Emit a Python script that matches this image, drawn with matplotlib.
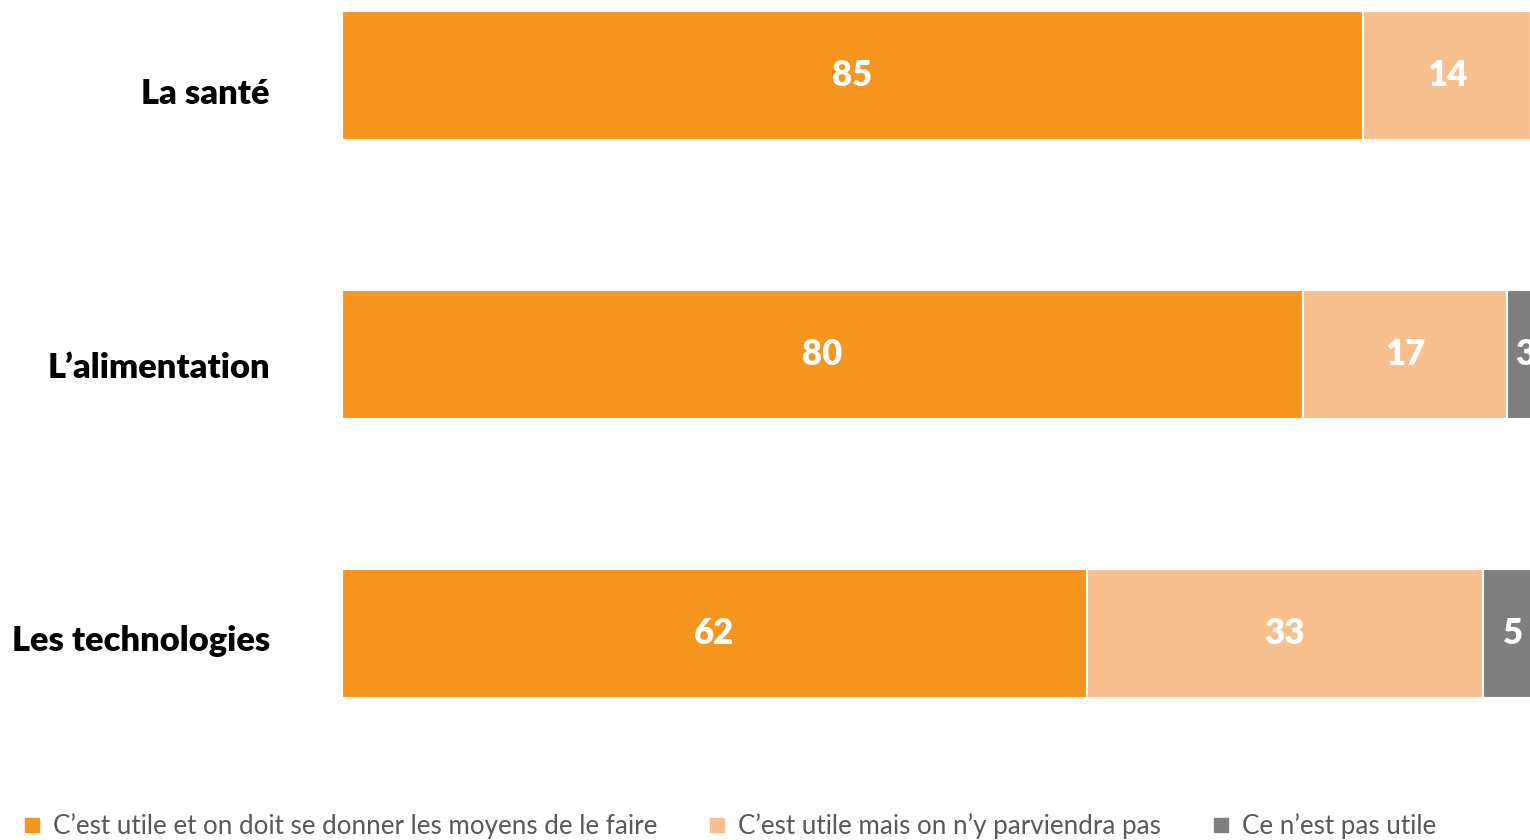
import matplotlib.pyplot as plt
import matplotlib.transforms as mtransforms
from matplotlib.lines import Line2D

plt.rcParams['font.family'] = ['Lato', 'DejaVu Sans']

categories = ["La santé", "L’alimentation", "Les technologies"]
series_names = ["C’est utile et on doit se donner les moyens de le faire",
                "C’est utile mais on n’y parviendra pas",
                "Ce n’est pas utile"]
utile_moyens = [85, 80, 62]
utile_pas = [14, 17, 33]
pas_utile = [1, 3, 5]
colors = ["#F7961E", "#F9C08F", "#7F7F7F"]

fig = plt.figure(figsize=(15.3, 8.4), dpi=100)
# the bars run past the right edge in the original, so the axes do too
ax = fig.add_axes([342 / 1530, 1 - 740 / 840, 1201 / 1530, 740 / 840])

ypos = list(range(len(categories)))
left = [0, 0, 0]
for vals, col in zip([utile_moyens, utile_pas, pas_utile], colors):
    bars = ax.barh(ypos, vals, left=left, height=0.46, color=col,
                   edgecolor="white", linewidth=1.5)
    for b, v in zip(bars, vals):
        ax.text(b.get_x() + b.get_width() / 2, b.get_y() + b.get_height() / 2,
                str(v), ha="center", va="center", color="white",
                fontsize=25, fontweight="heavy")
    left = [l + v for l, v in zip(left, vals)]

ax.set_xlim(0, 100)
ax.set_ylim(2.382, -0.2706)
ax.set_yticks(ypos)
ax.set_yticklabels(categories, fontsize=24.8, fontweight="heavy")
ax.tick_params(axis="y", length=0, pad=52)
ax.set_xticks([])
for s in ax.spines.values():
    s.set_visible(False)

# category labels sit a little below the bar centres in the original
for lab, dy in zip(ax.get_yticklabels(), [16, 11, 5]):
    off = mtransforms.ScaledTranslation(0, -dy / 100, fig.dpi_scale_trans)
    lab.set_transform(lab.get_transform() + off)

handles = [Line2D([], [], marker="s", linestyle="none", color=c, markersize=10)
           for c in colors]
fig.legend(handles, series_names, loc="center left", ncol=3,
           bbox_to_anchor=(0.0075, 1 - 826 / 840), frameon=False,
           fontsize=18.75, labelcolor="#595959", handlelength=0.8,
           handletextpad=0.4, columnspacing=1.9, borderaxespad=0)

fig.savefig("out.png", dpi=100)
